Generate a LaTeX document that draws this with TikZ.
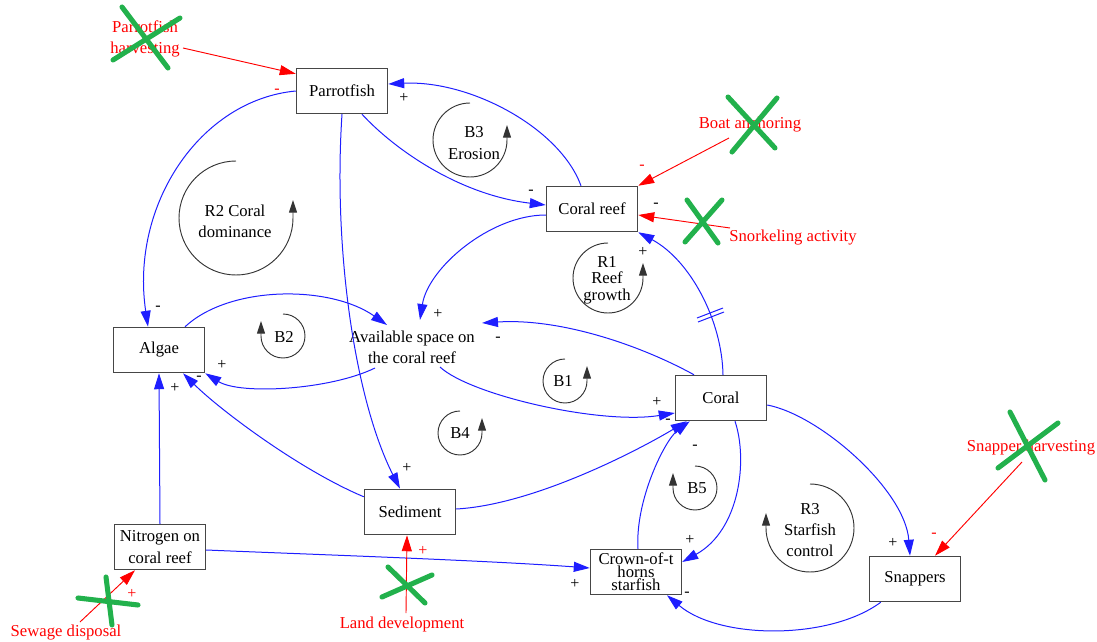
\documentclass[tikz,border=0pt]{standalone}
\usepackage{fontspec}
\setmainfont{Liberation Serif}
\usetikzlibrary{arrows.meta,calc}
\definecolor{crossgreen}{RGB}{34,177,76}
\definecolor{boxgray}{RGB}{70,70,70}
\definecolor{linkblue}{RGB}{30,30,255}
\tikzset{
  var/.style={draw=boxgray, line width=1.1pt, fill=white, minimum width=68.25pt, minimum height=33.75pt, inner sep=1pt, align=center, font=\fontsize{12.5}{16}\selectfont},
  lbl/.style={align=center, inner sep=0pt, font=\fontsize{12.5}{16}\selectfont},
  ext/.style={lbl, text=red},
  link/.style={draw=linkblue, line width=0.75pt, -{Triangle[length=12pt,width=7.5pt]}},
  extlink/.style={draw=red, line width=0.7pt, -{Triangle[length=12pt,width=7.5pt]}},
  loopc/.style={draw=black!80, line width=0.7pt, -{Triangle[length=9.5pt,width=6pt]}},
  pol/.style={inner sep=0pt, font=\fontsize{12}{13}\selectfont},
  cross/.style={draw=crossgreen, line width=3.8pt, line cap=round},
}
\begin{document}
\begin{tikzpicture}[x=0.75pt,y=-0.75pt]
\useasboundingbox (0,0) rectangle (1097,642);
% variables
\node[var] (parrot) at (342,91) {Parrotfish};
\node[var] (coralreef) at (592,209) {Coral reef};
\node[var] (algae) at (159,350) {Algae};
\node[lbl] (space) at (412,347) {Available space on\\the coral reef};
\node[var] (coral) at (721,398) {Coral};
\node[var] (sediment) at (410,512) {Sediment};
\node[var] (nitrogen) at (160,547) {Nitrogen on\\coral reef};
\node[var, font=\fontsize{12.5}{9.6}\selectfont] (crown) at (636,572) {Crown-of-t\\horns\\starfish};
\node[var] (snappers) at (915,579) {Snappers};
% external
\node[ext] (ph) at (145,39) {Parrotfish\\harvesting};
\node[ext] (boat) at (750,125) {Boat anchoring};
\node[ext] (snork) at (793,238) {Snorkeling activity};
\node[ext] (snapharv) at (1031,448) {Snapper harvesting};
\node[ext] (sewage) at (66,633) {Sewage disposal};
\node[ext] (land) at (402,624) {Land development};
% loops
\node[lbl] (lB3) at (474,143) {B3\\Erosion};
\draw[loopc] (470,103) arc[start angle=90, end angle=360, radius=27.75pt] -- ++(0,-15);
\node[lbl] (lR2) at (235,221) {R2 Coral\\dominance};
\draw[loopc] (236,161) arc[start angle=90, end angle=360, radius=42.75pt] -- ++(0,-18);
\node[lbl, font=\fontsize{12.5}{12.4}\selectfont] (lR1) at (607,280) {R1\\Reef\\growth};
\draw[loopc] (608,243) arc[start angle=90, end angle=360, radius=26.25pt] -- ++(0,-15);
\node[lbl] (lB2) at (284,337) {B2};
\draw[loopc] (283,314) arc[start angle=90, end angle=-180, radius=16.5pt] -- ++(0,-15);
\node[lbl] (lB1) at (563,381) {B1};
\draw[loopc] (565,359) arc[start angle=90, end angle=360, radius=16.5pt] -- ++(0,-15);
\node[lbl] (lB4) at (460,433) {B4};
\draw[loopc] (460,411) arc[start angle=90, end angle=360, radius=16.5pt] -- ++(0,-15);
\node[lbl] (lB5) at (697,488) {B5};
\draw[loopc] (695,466) arc[start angle=90, end angle=-180, radius=16.5pt] -- ++(0,-15);
\node[lbl] (lR3) at (810,530) {R3\\Starfish\\control};
\draw[loopc] (810,484) arc[start angle=90, end angle=-180, radius=33pt] -- ++(0,-15);
% blue links
\draw[link] (parrot.west) .. controls (200,100) and (130,205) .. ($(algae.north)+(-11,0)$);
\draw[link] (parrot.south) .. controls (333,250) and (355,400) .. ($(sediment.north)+(-10,0)$);
\draw[link] ($(parrot.south)+(20,0)$) .. controls (395,150) and (460,195) .. ($(coralreef.west)+(0,-4)$);
\draw[link] ($(coralreef.north)+(-11,0)$) .. controls (560,128) and (470,80) .. ($(parrot.east)+(0,-7)$);
\draw[link] ($(coralreef.west)+(0,6)$) .. controls (490,215) and (428,268) .. ($(space.center)+(8,-27)$);
\draw[link] ($(coral.north)+(2,0)$) .. controls (722,320) and (690,260) .. (coralreef.south east);
\draw[linkblue, line width=0.75pt] (697,318) -- (723,308) (698,322) -- (724,312);
\draw[link] ($(coral.north)+(-27,0)$) .. controls (640,345) and (560,318) .. ($(space.center)+(70,-24)$);
\draw[link] ($(space.center)+(28,20)$) .. controls (470,395) and (600,425) .. ($(coral.west)+(0,15)$);
\draw[link] ($(algae.north)+(26,0)$) .. controls (230,285) and (330,285) .. ($(space.center)+(-25,-22)$);
\draw[link] ($(space.center)+(-37,21)$) .. controls (330,390) and (240,395) .. (algae.south east);
\draw[link] ($(sediment.north west)+(0,8)$) .. controls (300,470) and (220,410) .. ($(algae.south)+(24,0)$);
\draw[link] (nitrogen.north) -- (algae.south);
\draw[link] ($(nitrogen.east)+(0,3)$) .. controls (300,554) and (480,560) .. ($(crown.west)+(0,-4)$);
\draw[link] ($(sediment.east)+(0,-3)$) .. controls (530,505) and (630,455) .. ($(coral.south west)+(12,0)$);
\draw[link] ($(crown.north)+(2,0)$) .. controls (635,500) and (665,440) .. ($(coral.south west)+(15,0)$);
\draw[link] ($(coral.south)+(14,0)$) .. controls (748,460) and (740,530) .. ($(crown.east)+(0,-10)$);
\draw[link] ($(coral.east)+(0,7)$) .. controls (820,415) and (905,490) .. ($(snappers.north)+(-5,0)$);
\draw[link] ($(snappers.south west)+(12,0)$) .. controls (830,640) and (720,640) .. ($(crown.south)+(31,0)$);
% red links
\draw[extlink] ($(ph.center)+(38,9)$) -- ($(parrot.north west)+(0,6)$);
\draw[extlink] ($(boat.center)+(-21,13)$) -- (coralreef.north east);
\draw[extlink] ($(snork.center)+(-63,-10)$) -- ($(coralreef.east)+(0,6)$);
\draw[extlink] ($(snapharv.center)+(-9,14)$) -- ($(snappers.north)+(20,0)$);
\draw[extlink] ($(sewage.center)+(14,-11)$) -- ($(nitrogen.south)+(-25,0)$);
\draw[extlink] ($(land.center)+(4,-11)$) -- ($(sediment.south)+(-3,0)$);
% polarities
\node[pol, text=red] (p1) at (277,91) {-};
\node[pol] (p2) at (404,98) {+};
\node[pol] (p3) at (531,192) {-};
\node[pol, text=red] (p4) at (642,167) {-};
\node[pol] (p5) at (656,205) {-};
\node[pol] (p6) at (643,252) {+};
\node[pol] (p7) at (158,308) {-};
\node[pol] (p8) at (438,314) {+};
\node[pol] (p9) at (498,339) {-};
\node[pol] (p10) at (222,365) {+};
\node[pol] (p11) at (199,378) {-};
\node[pol] (p12) at (175,388) {+};
\node[pol] (p13) at (657,402) {+};
\node[pol] (p14) at (668,421) {-};
\node[pol] (p15) at (695,447) {-};
\node[pol] (p16) at (407,468) {+};
\node[pol, text=red] (p17) at (423,551) {+};
\node[pol, text=red] (p18) at (132,594) {+};
\node[pol] (p19) at (690,540) {+};
\node[pol] (p20) at (575,584) {+};
\node[pol] (p21) at (687,594) {-};
\node[pol] (p22) at (893,543) {+};
\node[pol, text=red] (p23) at (934,535) {-};
% green crosses
\draw[cross] (122,7) -- (168,68) (113,60) -- (180,18);
\draw[cross] (728,97) -- (775,148) (777,98) -- (732,152);
\draw[cross] (687,200) -- (718,243) (722,200) -- (685,242);
\draw[cross] (1010,412) -- (1045,480) (1058,423) -- (998,468);
\draw[cross] (106,577) -- (112,625) (78,598) -- (138,605);
\draw[cross] (388,567) -- (425,603) (382,597) -- (432,575);
\end{tikzpicture}
\end{document}
